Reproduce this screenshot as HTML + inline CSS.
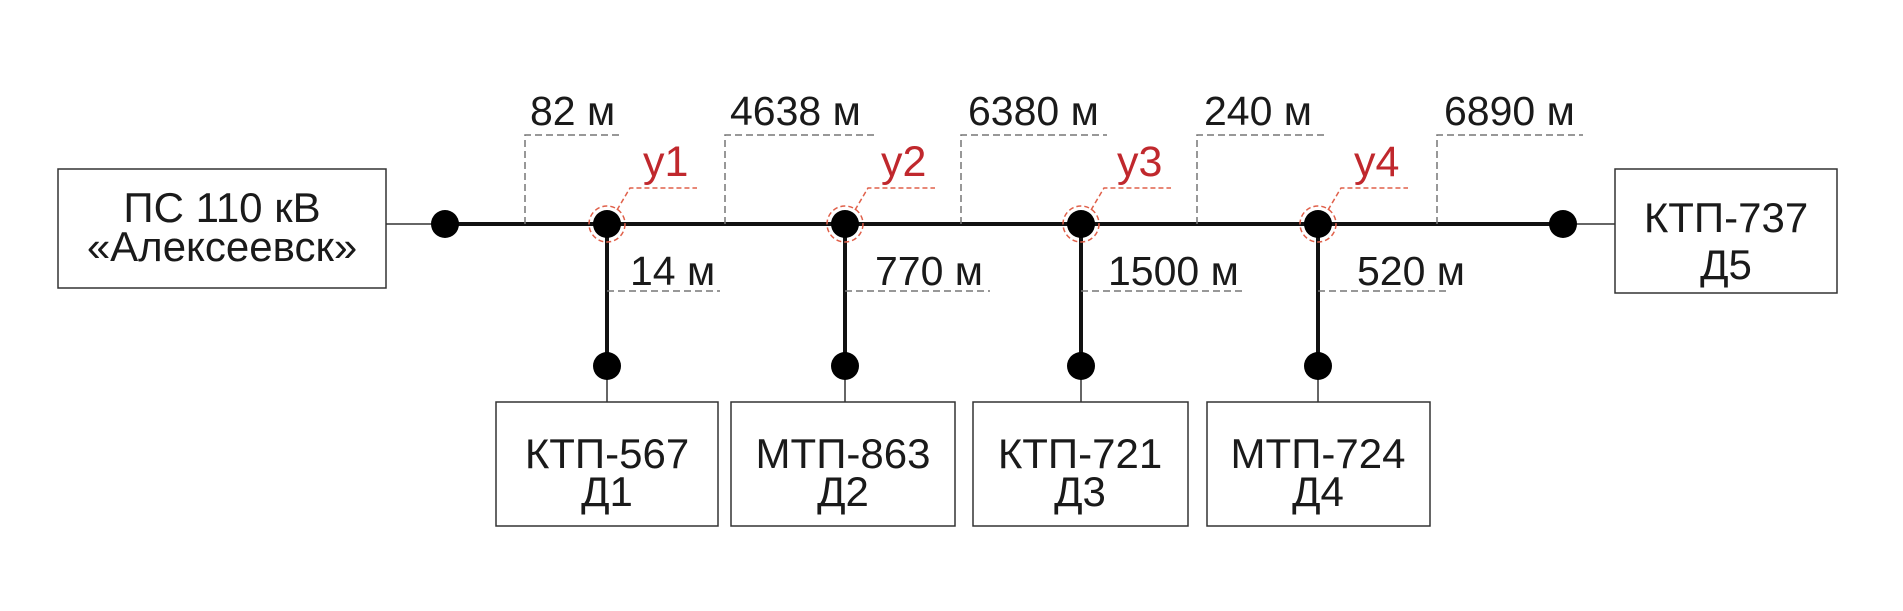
<!DOCTYPE html>
<html><head><meta charset="utf-8"><style>
html,body{margin:0;padding:0;background:#fff;}
svg{display:block;}
text{font-family:"Liberation Sans",sans-serif;fill:#1a1a1a;}
.r{fill:#c0282d;}
</style></head><body>
<svg width="1903" height="611" viewBox="0 0 1903 611" xmlns="http://www.w3.org/2000/svg">
<g fill="none" stroke="#333" stroke-width="1.5">
<rect x="58" y="169" width="328" height="119"/>
<rect x="1615" y="169" width="222" height="124"/>
<rect x="496" y="402" width="222" height="124"/>
<rect x="731" y="402" width="224" height="124"/>
<rect x="973" y="402" width="215" height="124"/>
<rect x="1207" y="402" width="223" height="124"/>
<line x1="386" y1="224" x2="445" y2="224"/>
<line x1="1563" y1="224" x2="1615" y2="224"/>
<line x1="607" y1="366" x2="607" y2="402"/>
<line x1="845" y1="366" x2="845" y2="402"/>
<line x1="1081" y1="366" x2="1081" y2="402"/>
<line x1="1318" y1="366" x2="1318" y2="402"/>
</g>
<g stroke="#111" stroke-width="4">
<line x1="445" y1="224" x2="1563" y2="224"/>
<line x1="607" y1="224" x2="607" y2="366"/>
<line x1="845" y1="224" x2="845" y2="366"/>
<line x1="1081" y1="224" x2="1081" y2="366"/>
<line x1="1318" y1="224" x2="1318" y2="366"/>
</g>
<g fill="#000">
<circle cx="445" cy="224" r="14"/><circle cx="1563" cy="224" r="14"/>
<circle cx="607" cy="224" r="14"/><circle cx="845" cy="224" r="14"/>
<circle cx="1081" cy="224" r="14"/><circle cx="1318" cy="224" r="14"/>
<circle cx="607" cy="366" r="14"/><circle cx="845" cy="366" r="14"/>
<circle cx="1081" cy="366" r="14"/><circle cx="1318" cy="366" r="14"/>
</g>
<g fill="none" stroke="#777" stroke-width="1.5" stroke-dasharray="7,4">
<polyline points="525,224 525,135 623,135"/>
<polyline points="725,224 725,135 875,135"/>
<polyline points="961,224 961,135 1107,135"/>
<polyline points="1197,224 1197,135 1325,135"/>
<polyline points="1437,224 1437,135 1583,135"/>
<line x1="607" y1="291" x2="720" y2="291"/>
<line x1="845" y1="291" x2="990" y2="291"/>
<line x1="1081" y1="291" x2="1243" y2="291"/>
<line x1="1318" y1="291" x2="1447" y2="291"/>
</g>
<g fill="none" stroke="#e0604a" stroke-width="1.5" stroke-dasharray="5,3">
<circle cx="607" cy="224" r="18"/><circle cx="845" cy="224" r="18"/>
<circle cx="1081" cy="224" r="18"/><circle cx="1318" cy="224" r="18"/>
<polyline points="617,210 630,188 697,188"/>
<polyline points="855,210 868,188 935,188"/>
<polyline points="1091,210 1104,188 1171,188"/>
<polyline points="1328,210 1341,188 1408,188"/>
</g>
<g font-size="41">
<text x="530" y="125">82 м</text>
<text x="730" y="125">4638 м</text>
<text x="968" y="125">6380 м</text>
<text x="1204" y="125">240 м</text>
<text x="1444" y="125">6890 м</text>
<text x="630" y="285">14 м</text>
<text x="875" y="285">770 м</text>
<text x="1108" y="285">1500 м</text>
<text x="1357" y="285">520 м</text>
</g>
<g font-size="43">
<text class="r" x="643" y="176">у1</text>
<text class="r" x="881" y="176">у2</text>
<text class="r" x="1117" y="176">у3</text>
<text class="r" x="1354" y="176">у4</text>
</g>
<g font-size="42" text-anchor="middle">
<text x="222" y="222">ПС 110 кВ</text>
<text x="222" y="261">«Алексеевск»</text>
<text x="1726" y="232">КТП-737</text>
<text x="1726" y="279">Д5</text>
<text x="607" y="468">КТП-567</text>
<text x="607" y="506">Д1</text>
<text x="843" y="468">МТП-863</text>
<text x="843" y="506">Д2</text>
<text x="1080" y="468">КТП-721</text>
<text x="1080" y="506">Д3</text>
<text x="1318" y="468">МТП-724</text>
<text x="1318" y="506">Д4</text>
</g>
</svg>
</body></html>
